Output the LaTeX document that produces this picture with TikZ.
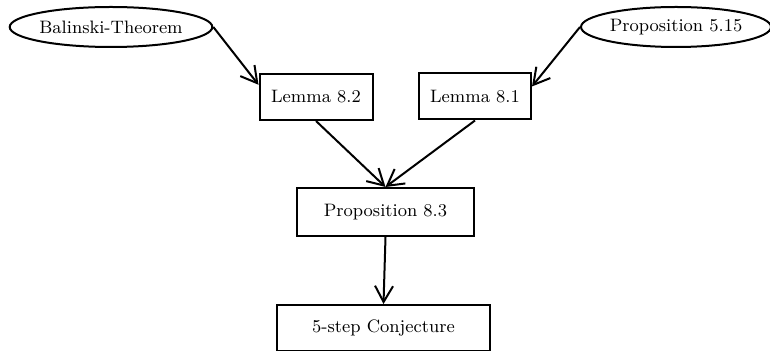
\documentclass[tikz,border=0pt]{standalone}
\usetikzlibrary{arrows.meta,shapes.geometric}

\begin{document}
\begin{tikzpicture}[x=0.5pt,y=-0.5pt,
    thm/.style={ellipse, draw, line width=1pt, minimum width=100pt,
        minimum height=20pt, inner sep=0pt},
    res/.style={rectangle, draw, line width=1pt, minimum height=23pt,
        inner sep=0pt},
    >={Straight Barb[length=8pt,width=9pt,line width=1pt]},
    font=\fontsize{9}{11}\selectfont]

    \useasboundingbox (0,0) rectangle (770,351);

    \node[thm] (Bal) at (111,27) {Balinski-Theorem};
    \node[thm,minimum width=95pt] (P515) at (676,27) {Proposition 5.15};
    \node[res,minimum width=56.5pt] (L82) at (316,97) {Lemma 8.2};
    \node[res,minimum width=56pt] (L81) at (475,96.5) {Lemma 8.1};
    \node[res,minimum width=88.5pt,minimum height=24pt] (P83) at (385.5,212) {Proposition 8.3};
    \node[res,minimum width=106.5pt] (Conj) at (383.5,328) {5-step Conjecture};

    \draw[->,line width=1pt] (Bal.east) -- (L82.168);
    \draw[->,line width=1pt] (P515.west) -- (L81.10);
    \draw[->,line width=1pt] (L82.south) -- (P83.north);
    \draw[->,line width=1pt] (L81.south) -- (P83.north);
    \draw[->,line width=1pt] (P83.south) -- (Conj.north);
\end{tikzpicture}
\end{document}
